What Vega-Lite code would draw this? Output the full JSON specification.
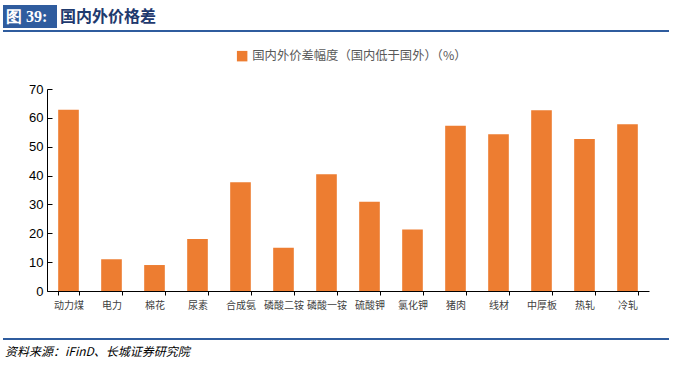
{
  "$schema": "https://vega.github.io/schema/vega-lite/v6.json",
  "width": 602,
  "height": 202,
  "autosize": {"type": "none"},
  "padding": {"left": 47, "top": 89, "right": 26, "bottom": 75},
  "background": "white",
  "config": {"view": {"stroke": null}, "font": "Noto Sans CJK SC"},
  "data": {"values": [
    {"item": "动力煤", "value": 62.8, "series": "国内外价差幅度（国内低于国外）（%）"},
    {"item": "电力", "value": 11.0, "series": "国内外价差幅度（国内低于国外）（%）"},
    {"item": "棉花", "value": 9.0, "series": "国内外价差幅度（国内低于国外）（%）"},
    {"item": "尿素", "value": 18.0, "series": "国内外价差幅度（国内低于国外）（%）"},
    {"item": "合成氨", "value": 37.7, "series": "国内外价差幅度（国内低于国外）（%）"},
    {"item": "磷酸二铵", "value": 15.0, "series": "国内外价差幅度（国内低于国外）（%）"},
    {"item": "磷酸一铵", "value": 40.5, "series": "国内外价差幅度（国内低于国外）（%）"},
    {"item": "硫酸钾", "value": 30.9, "series": "国内外价差幅度（国内低于国外）（%）"},
    {"item": "氯化钾", "value": 21.3, "series": "国内外价差幅度（国内低于国外）（%）"},
    {"item": "猪肉", "value": 57.3, "series": "国内外价差幅度（国内低于国外）（%）"},
    {"item": "线材", "value": 54.3, "series": "国内外价差幅度（国内低于国外）（%）"},
    {"item": "中厚板", "value": 62.6, "series": "国内外价差幅度（国内低于国外）（%）"},
    {"item": "热轧", "value": 52.7, "series": "国内外价差幅度（国内低于国外）（%）"},
    {"item": "冷轧", "value": 57.8, "series": "国内外价差幅度（国内低于国外）（%）"}
  ]},
  "layer": [
    {
      "mark": {"type": "bar"},
      "encoding": {
        "x": {"field": "item", "type": "nominal", "sort": null,
          "scale": {"paddingInner": 0.52, "paddingOuter": 0.26},
          "axis": {"title": null, "labelAngle": 0, "labelFont": "Noto Sans CJK SC", "labelFontSize": 10, "labelColor": "#404040", "labelPadding": 5, "tickBand": "extent", "tickSize": 4, "tickColor": "#000000", "domainColor": "#000000", "grid": false}},
        "y": {"field": "value", "type": "quantitative",
          "scale": {"domain": [0, 70]},
          "axis": {"title": null, "values": [0, 10, 20, 30, 40, 50, 60, 70], "labelFont": "Liberation Sans", "labelFontSize": 13, "labelColor": "#000000", "labelPadding": 9, "tickSize": -5, "tickColor": "#000000", "domainColor": "#000000", "grid": false}},
        "color": {"field": "series", "type": "nominal", "scale": {"range": ["#ED7D31"]},
          "legend": {"title": null, "orient": "none", "legendX": 189, "legendY": -39, "symbolType": "square", "symbolSize": 110, "symbolStrokeWidth": 0, "labelFont": "Noto Sans CJK SC", "labelFontSize": 12.3, "labelColor": "#595959", "labelLimit": 400}}
      }
    },
    {
      "data": {"values": [{}]},
      "mark": {"type": "rect", "color": "#2F5C9E"},
      "encoding": {"x": {"value": -44}, "x2": {"value": 10}, "y": {"value": -84}, "y2": {"value": -61}}
    },
    {
      "data": {"values": [{}]},
      "mark": {"type": "text", "text": "图 39:", "font": "Liberation Serif", "fontWeight": "bold", "fontSize": 16, "color": "#FFFFFF", "align": "left", "baseline": "middle"},
      "encoding": {"x": {"value": -41}, "y": {"value": -72}}
    },
    {
      "data": {"values": [{}]},
      "mark": {"type": "text", "text": "国内外价格差", "font": "Noto Sans CJK SC", "fontWeight": "bold", "fontSize": 16, "color": "#1F3A6E", "align": "left", "baseline": "middle"},
      "encoding": {"x": {"value": 13}, "y": {"value": -72}}
    },
    {
      "data": {"values": [{}]},
      "mark": {"type": "rule", "color": "#2F5C9E", "strokeWidth": 2},
      "encoding": {"x": {"value": -44}, "x2": {"value": 622}, "y": {"value": -58}}
    },
    {
      "data": {"values": [{}]},
      "mark": {"type": "rule", "color": "#2F5C9E", "strokeWidth": 2},
      "encoding": {"x": {"value": -44}, "x2": {"value": 622}, "y": {"value": 250}}
    },
    {
      "data": {"values": [{}]},
      "mark": {"type": "text", "text": "资料来源：iFinD、长城证券研究院", "font": "Noto Sans CJK SC", "fontStyle": "italic", "fontSize": 12, "color": "#000000", "align": "left", "baseline": "middle"},
      "encoding": {"x": {"value": -42}, "y": {"value": 263}}
    }
  ]
}
